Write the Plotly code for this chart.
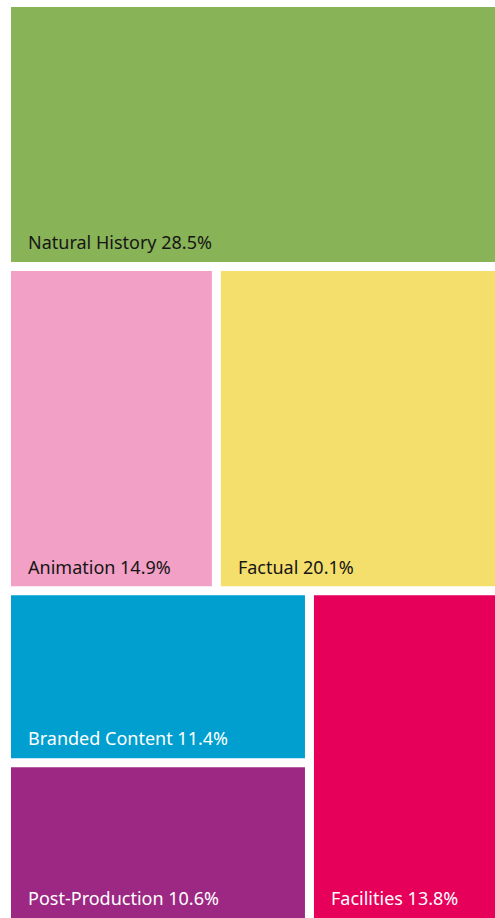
import plotly.graph_objects as go

# Data
categories = ["Natural History", "Animation", "Factual", "Branded Content", "Post-Production", "Facilities"]
shares = [28.5, 14.9, 20.1, 11.4, 10.6, 13.8]
colors = ["#88B357", "#F2A0C5", "#F5DF6C", "#009FCF", "#9C2883", "#E6005A"]
text_colors = ["#161616", "#161616", "#161616", "#FFFFFF", "#FFFFFF", "#FFFFFF"]
# layout hierarchy: (id, parent) in drawing order; leaves reference categories
tree = [
    ("root", ""),
    ("Natural History", "root"),
    ("row2", "root"),
    ("Animation", "row2"),
    ("Factual", "row2"),
    ("row3", "root"),
    ("col", "row3"),
    ("Branded Content", "col"),
    ("Post-Production", "col"),
    ("Facilities", "row3"),
]

ids, parents, labels, values, node_colors, texts, font_colors = [], [], [], [], [], [], []
for nid, par in tree:
    ids.append(nid)
    parents.append(par)
    if nid in categories:
        i = categories.index(nid)
        labels.append(nid)
        values.append(shares[i])
        node_colors.append(colors[i])
        texts.append(
            "<span style='font-size:18px'>\u00a0\u00a0\u00a0%s %.1f%%</span><br> "
            % (categories[i], shares[i])
        )
        font_colors.append(text_colors[i])
    else:
        labels.append(" ")
        values.append(0)
        node_colors.append("rgba(255,255,255,0)")
        texts.append(" ")
        font_colors.append("#FFFFFF")

fig = go.Figure(go.Treemap(
    ids=ids,
    labels=labels,
    parents=parents,
    values=values,
    branchvalues="remainder",
    text=texts,
    texttemplate="%{text}",
    textposition="bottom left",
    textfont=dict(family="Noto Sans", size=6, color=font_colors),
    marker=dict(colors=node_colors, line=dict(width=0), pad=dict(t=0, l=0, r=0, b=0)),
    tiling=dict(packing="dice-slice", pad=9),
    pathbar=dict(visible=False),
    sort=False,
    hoverinfo="skip",
    root=dict(color="rgba(255,255,255,0)"),
))

fig.update_layout(
    width=495, height=918,
    margin=dict(l=11, r=0, t=7, b=0),
    paper_bgcolor="white",
    showlegend=False,
)

post = (
    "document.body.style.margin='0';document.body.style.overflow='hidden';"
    "var gd=document.getElementById('{plot_id}');"
    "Plotly.relayout(gd,{width:495,height:918});"
)
fig.write_html("out.html", config={"responsive": False, "displayModeBar": False}, post_script=post)
